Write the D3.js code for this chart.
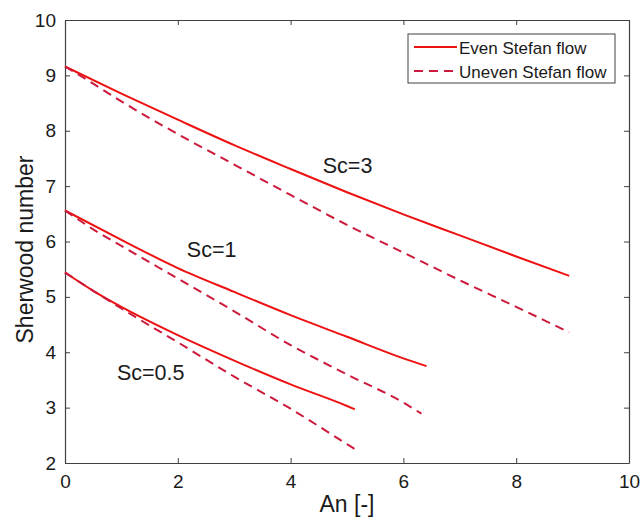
<!DOCTYPE html>
<html><head><meta charset="utf-8">
<script src="https://cdn.jsdelivr.net/npm/d3@7"></script>
<style>body{margin:0;background:#fff}svg{display:block}text{font-family:"Liberation Sans",Arial,sans-serif;fill:#1a1a1a}</style>
</head><body><svg id="c" width="641" height="522"></svg>
<script>
const xTicks = [0, 2, 4, 6, 8, 10];
const yTicks = [2, 3, 4, 5, 6, 7, 8, 9, 10];
const seriesNames = ["Even Stefan flow", "Uneven Stefan flow"];
const curveLabels = ["Sc=3", "Sc=1", "Sc=0.5"];
const labelPos = [[4.57, 7.24], [2.16, 5.72], [0.92, 3.5]];

// An values and Sherwood numbers
const sc3EvenX = [0, 1, 2, 3, 4, 5, 6, 7, 8, 8.94];
const sc3EvenY = [9.16, 8.67, 8.2, 7.74, 7.31, 6.89, 6.49, 6.11, 5.73, 5.38];
const sc3UnevenX = [0, 0.5, 1, 2, 3, 4, 5, 6, 7, 8, 8.94];
const sc3UnevenY = [9.16, 8.85, 8.53, 7.94, 7.39, 6.84, 6.3, 5.8, 5.3, 4.82, 4.36];
const sc1EvenX = [0, 1, 2, 3, 4, 5, 6, 6.41];
const sc1EvenY = [6.56, 6.03, 5.52, 5.09, 4.67, 4.28, 3.89, 3.75];
const sc1UnevenX = [0, 0.5, 1, 2, 3, 4, 5, 6, 6.32];
const sc1UnevenY = [6.56, 6.22, 5.92, 5.33, 4.74, 4.13, 3.6, 3.09, 2.89];
const sc05EvenX = [0, 0.5, 1, 2, 3, 4, 5, 5.14];
const sc05EvenY = [5.44, 5.11, 4.82, 4.31, 3.85, 3.42, 3.03, 2.97];
const sc05UnevenX = [0, 0.5, 1, 2, 3, 4, 5, 5.14];
const sc05UnevenY = [5.44, 5.11, 4.79, 4.18, 3.56, 2.98, 2.34, 2.25];

const svg = d3.select("#c");
const L = 65, R = 629, T = 20, B = 463;
const x = d3.scaleLinear().domain([0, 10]).range([L, R]);
const y = d3.scaleLinear().domain([2, 10]).range([B, T]);
const axisCol = "#404040";
const solidCol = "#ee1111", dashCol = "#cc1a3c";

// axes box
const axB = svg.append("g").attr("transform", `translate(0,${B})`).call(d3.axisBottom(x).tickValues(xTicks).tickSizeInner(-5).tickSizeOuter(0).tickPadding(12));
const axT = svg.append("g").attr("transform", `translate(0,${T})`).call(d3.axisTop(x).tickValues(xTicks).tickSizeInner(-5).tickSizeOuter(0).tickFormat(""));
const axL = svg.append("g").attr("transform", `translate(${L},0)`).call(d3.axisLeft(y).tickValues(yTicks).tickSizeInner(-5).tickSizeOuter(0).tickPadding(9));
const axR = svg.append("g").attr("transform", `translate(${R},0)`).call(d3.axisRight(y).tickValues(yTicks).tickSizeInner(-5).tickSizeOuter(0).tickFormat(""));
[axB, axT, axL, axR].forEach(a => {
  a.select(".domain").attr("stroke", axisCol).attr("stroke-width", 1.2);
  a.selectAll(".tick line").attr("stroke", axisCol);
  a.selectAll("text").attr("font-size", 19).attr("fill", "#1a1a1a").attr("font-family", '"Liberation Sans",Arial,sans-serif');
});

const line = d3.line().x(d => x(d[0])).y(d => y(d[1])).curve(d3.curveMonotoneX);
const zip = (a, b) => a.map((v, i) => [v, b[i]]);
const series = [
  [sc3EvenX, sc3EvenY, 0], [sc3UnevenX, sc3UnevenY, 1],
  [sc1EvenX, sc1EvenY, 0], [sc1UnevenX, sc1UnevenY, 1],
  [sc05EvenX, sc05EvenY, 0], [sc05UnevenX, sc05UnevenY, 1]
];
series.forEach(([xs, ys, t]) => {
  svg.append("path").attr("d", line(zip(xs, ys))).attr("fill", "none")
    .attr("stroke", t ? dashCol : solidCol).attr("stroke-width", 2)
    .attr("stroke-dasharray", t ? "9,6" : null);
});

curveLabels.forEach((s, i) => {
  svg.append("text").attr("x", x(labelPos[i][0])).attr("y", y(labelPos[i][1]))
    .attr("font-size", 21.5).text(s);
});

// axis labels
svg.append("text").attr("x", (L + R) / 2).attr("y", 512).attr("text-anchor", "middle").attr("font-size", 23).text("An [-]");
svg.append("text").attr("transform", `translate(33,${(T + B) / 2 + 8}) rotate(-90)`).attr("text-anchor", "middle").attr("font-size", 23).text("Sherwood number");

// legend
const lg = svg.append("g");
lg.append("rect").attr("x", 408).attr("y", 34).attr("width", 207).attr("height", 49).attr("fill", "#fff").attr("stroke", axisCol).attr("stroke-width", 1);
seriesNames.forEach((s, i) => {
  const yy = 47 + i * 24;
  lg.append("line").attr("x1", 414).attr("x2", 457).attr("y1", yy).attr("y2", yy)
    .attr("stroke", i ? dashCol : solidCol).attr("stroke-width", 2).attr("stroke-dasharray", i ? "9,6" : null);
  lg.append("text").attr("x", 459).attr("y", yy + 7).attr("font-size", 17).text(s);
});
</script></body></html>
